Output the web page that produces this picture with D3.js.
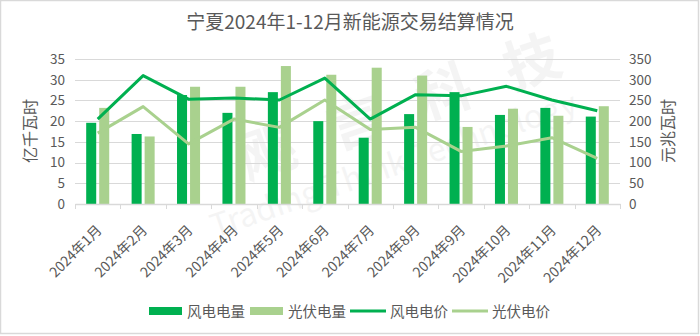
<!DOCTYPE html>
<html>
<head>
<meta charset="utf-8">
<script src="https://cdn.jsdelivr.net/npm/d3@7"></script>
<style>
  html, body { margin: 0; padding: 0; background: #fff; }
  svg { display: block; }
  text { font-family: "Noto Sans CJK SC", "Noto Sans", sans-serif; fill: #595959; }
</style>
</head>
<body>
<svg id="chart" width="700" height="336"></svg>
<script>
// Monthly settlement data, Ningxia 2024
const months = ["2024年1月","2024年2月","2024年3月","2024年4月","2024年5月","2024年6月",
                "2024年7月","2024年8月","2024年9月","2024年10月","2024年11月","2024年12月"];
// energy, 亿千瓦时
const windEnergy  = [19.6, 16.9, 26.3, 22.0, 27.0, 20.0, 16.0, 21.7, 27.0, 21.5, 23.2, 21.1];
const solarEnergy = [23.2, 16.3, 28.3, 28.3, 33.3, 31.2, 32.9, 31.0, 18.6, 23.0, 21.3, 23.6];
// price, 元/兆瓦时
const windPrice  = [205, 310, 253, 256, 251, 304, 205, 264, 261, 284, 251, 225];
const solarPrice = [171, 235, 145, 205, 185, 251, 180, 185, 127, 140, 160, 110];

const leftTicks  = [0, 5, 10, 15, 20, 25, 30, 35];
const rightTicks = [0, 50, 100, 150, 200, 250, 300, 350];

const C_WIND = "#00b050", C_SOLAR = "#a9d18e", C_GRID = "#d9d9d9";

const svg = d3.select("#chart");

// outer frame
svg.append("rect").attr("x", 0.5).attr("y", 0.5).attr("width", 698).attr("height", 333)
  .attr("fill", "#fff").attr("stroke", "#d9d9d9").attr("stroke-width", 1.5);

const plot = { left: 75, right: 620, top: 59, bottom: 204 };

const x = d3.scaleBand().domain(months).range([plot.left, plot.right]).padding(0);
const xs = d3.scaleBand().domain(["wind", "solar"]).range([0, x.bandwidth()])
  .paddingInner(0.23).paddingOuter(0.86);
const yL = d3.scaleLinear().domain([0, 35]).range([plot.bottom, plot.top]);
const yR = d3.scaleLinear().domain([0, 350]).range([plot.bottom, plot.top]);

// watermark
const wm = svg.append("g").attr("pointer-events", "none");
wm.append("path")
  .attr("d", "M 120 170 A 62 62 0 1 0 215 250 A 48 48 0 1 1 120 170 Z")
  .attr("fill", "#00a651").attr("opacity", 0.07);
const wmChars = ["飔", "言", "科", "技"];
wm.selectAll("text.wmc").data(wmChars).join("text").attr("class", "wmc")
  .attr("transform", (d, i) => `translate(${248 + i * 88},${180 - i * 30}) rotate(-19)`)
  .attr("font-size", 56).attr("font-weight", 700)
  .style("fill", "#000").attr("opacity", 0.04)
  .text(d => d);
wm.append("text").attr("transform", "translate(215,238) rotate(-19)")
  .attr("font-size", 32).style("fill", "#000").attr("opacity", 0.04)
  .text("Trading Think Technology");

// grid lines
svg.append("g").selectAll("line").data(leftTicks.slice(1)).join("line")
  .attr("x1", plot.left).attr("x2", plot.right)
  .attr("y1", d => Math.round(yL(d)) + 0.5).attr("y2", d => Math.round(yL(d)) + 0.5)
  .attr("stroke", C_GRID).attr("stroke-width", 1);

// left axis
const axL = svg.append("g").attr("transform", `translate(${plot.left - 10},0)`)
  .call(d3.axisLeft(yL).tickValues(leftTicks).tickSize(0).tickPadding(0));
axL.select(".domain").remove();
axL.selectAll("text").attr("font-size", 13.5).style("fill", "#595959")
  .attr("font-family", "'Liberation Sans', sans-serif");

// right axis
const axR = svg.append("g").attr("transform", `translate(${plot.right + 9},0)`)
  .call(d3.axisRight(yR).tickValues(rightTicks).tickSize(0).tickPadding(0));
axR.select(".domain").remove();
axR.selectAll("text").attr("font-size", 13.5).style("fill", "#595959")
  .attr("font-family", "'Liberation Sans', sans-serif");

// bars
const groups = svg.append("g").selectAll("g").data(months).join("g")
  .attr("transform", d => `translate(${x(d)},0)`);
groups.append("rect")
  .attr("x", xs("wind")).attr("width", xs.bandwidth())
  .attr("y", (d, i) => yL(windEnergy[i])).attr("height", (d, i) => plot.bottom - yL(windEnergy[i]))
  .attr("fill", C_WIND);
groups.append("rect")
  .attr("x", xs("solar")).attr("width", xs.bandwidth())
  .attr("y", (d, i) => yL(solarEnergy[i])).attr("height", (d, i) => plot.bottom - yL(solarEnergy[i]))
  .attr("fill", C_SOLAR);

// bottom axis
const axB = svg.append("g").attr("transform", `translate(0,${plot.bottom})`)
  .call(d3.axisBottom(x).tickSize(0).tickFormat(""));
axB.select(".domain").attr("stroke", C_GRID).attr("stroke-width", 1.5);
svg.append("g").selectAll("line").data(d3.range(months.length + 1)).join("line")
  .attr("x1", i => Math.round(plot.left + i * x.step()) + 0.5)
  .attr("x2", i => Math.round(plot.left + i * x.step()) + 0.5)
  .attr("y1", plot.bottom).attr("y2", plot.bottom + 5)
  .attr("stroke", C_GRID).attr("stroke-width", 1);

svg.append("g").selectAll("text").data(months).join("text")
  .attr("transform", d => `translate(${x(d) + x.bandwidth() / 2 + 5},${plot.bottom + 27}) rotate(-45)`)
  .attr("text-anchor", "end").attr("font-size", 14)
  .text(d => d);

// price lines
const line = arr => d3.line()
  .x((d, i) => x(months[i]) + x.bandwidth() / 2)
  .y(d => yR(d))(arr);
svg.append("path").attr("d", line(solarPrice)).attr("fill", "none")
  .attr("stroke", C_SOLAR).attr("stroke-width", 3).attr("stroke-linejoin", "round");
svg.append("path").attr("d", line(windPrice)).attr("fill", "none")
  .attr("stroke", C_WIND).attr("stroke-width", 3).attr("stroke-linejoin", "round");

// title
svg.append("text").attr("x", 350).attr("y", 29).attr("text-anchor", "middle")
  .attr("font-size", 19).text("宁夏2024年1-12月新能源交易结算情况");

// axis titles
svg.append("text").attr("transform", "translate(36,131) rotate(-90)")
  .attr("text-anchor", "middle").attr("font-size", 16).text("亿千瓦时");
svg.append("text").attr("transform", "translate(674,131) rotate(-90)")
  .attr("text-anchor", "middle").attr("font-size", 16).text("元兆瓦时");

// legend
const legend = [
  { name: "风电电量", type: "bar",  color: C_WIND,  x: 149 },
  { name: "光伏电量", type: "bar",  color: C_SOLAR, x: 250 },
  { name: "风电电价", type: "line", color: C_WIND,  x: 350 },
  { name: "光伏电价", type: "line", color: C_SOLAR, x: 452 }
];
const lg = svg.append("g").selectAll("g").data(legend).join("g")
  .attr("transform", d => `translate(${d.x},311)`);
lg.filter(d => d.type === "bar").append("rect")
  .attr("x", 0).attr("y", -4).attr("width", 33).attr("height", 8).attr("fill", d => d.color);
lg.filter(d => d.type === "line").append("line")
  .attr("x1", 0).attr("x2", 36).attr("y1", 0).attr("y2", 0)
  .attr("stroke", d => d.color).attr("stroke-width", 3);
lg.append("text").attr("x", d => d.type === "bar" ? 38 : 40).attr("y", 5.5)
  .attr("font-size", 14.5).text(d => d.name);
</script>
</body>
</html>
